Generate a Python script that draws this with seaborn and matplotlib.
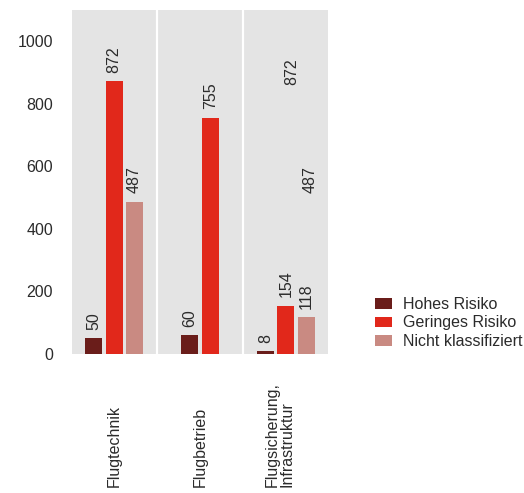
import pandas as pd
import matplotlib
matplotlib.use("Agg")
import matplotlib.pyplot as plt
import matplotlib.transforms as mtransforms
from matplotlib.patches import Patch
import seaborn as sns

# Reported incidents per area, split by risk class
categories = ["Flugtechnik", "Flugbetrieb", "Flugsicherung,\nInfrastruktur"]
series = ["Hohes Risiko", "Geringes Risiko", "Nicht klassifiziert"]
hohes_risiko = [50, 60, 8]
geringes_risiko = [872, 755, 154]
nicht_klassifiziert = [487, None, 118]
yticks = [0, 200, 400, 600, 800, 1000]
# leftover labels printed in the third column
stray_labels = ["872", "487"]
colors = ["#6a1d1a", "#e1281b", "#c98a82"]

rows = []
for i, cat in enumerate(categories):
    for name, vals in zip(series, [hohes_risiko, geringes_risiko, nicht_klassifiziert]):
        if vals[i] is not None:
            rows.append({"Bereich": cat, "Klasse": name, "Anzahl": vals[i]})
df = pd.DataFrame(rows)

sns.set_theme(style="white")
plt.rcParams["font.family"] = ["Liberation Sans", "DejaVu Sans"]
text_color = "#2b2b2b"
fs = 11.5

fig = plt.figure(figsize=(5.24, 4.93), dpi=100)
ax = fig.add_axes([0.1374, 0.282, 0.4885, 0.698])
ax.set_facecolor("#e4e4e4")

palette = dict(zip(series, colors))
slot = 0.238  # width reserved per bar within a group
for cat in categories:
    sub = df[df["Bereich"] == cat]
    present = [s for s in series if s in set(sub["Klasse"])]
    sns.barplot(data=sub, x="Bereich", y="Anzahl", hue="Klasse",
                order=categories, hue_order=present, palette=palette,
                width=slot * len(present), gap=0.17, dodge=True,
                errorbar=None, saturation=1, legend=False, ax=ax,
                linewidth=0)

for container in ax.containers:
    ax.bar_label(container, fmt="%d", rotation=90, padding=6,
                 fontsize=fs, color=text_color)

# stray value labels sitting in the third column
ax.text(2.07, 859, stray_labels[0], rotation=90, ha="center", va="bottom",
        fontsize=fs, color=text_color)
ax.text(2.28, 514, stray_labels[1], rotation=90, ha="center", va="bottom",
        fontsize=fs, color=text_color)

# white separators between the groups
for xs in (0.5, 1.5):
    ax.axvline(xs, color="white", lw=1.6, zorder=0.5)

ax.set_xlim(-0.49, 2.49)
ax.set_ylim(0, 1100)
ax.set_yticks(yticks)
ax.set_yticklabels([str(t) for t in yticks], fontsize=fs, color=text_color)
ax.tick_params(axis="y", length=0, pad=13.5)
ax.set_xticks([])
ax.set_xlabel("")
ax.set_ylabel("")
for sp in ax.spines.values():
    sp.set_visible(False)

# category names, rotated and bottom-aligned below the panel
trans = mtransforms.blended_transform_factory(ax.transData, fig.transFigure)
for i, cat in enumerate(categories):
    ax.text(i - (0.07 if "\n" in cat else 0), 0.012, cat, transform=trans,
            rotation=90, ha="center", va="bottom", multialignment="left",
            fontsize=fs, color=text_color, linespacing=1.0)

handles = [Patch(facecolor=c, edgecolor="none") for c in colors]
fig.legend(handles, series, loc="center left",
           bbox_to_anchor=(375 / 524, 1 - 323 / 493), frameon=False,
           fontsize=fs, handlelength=1.05, handleheight=0.65,
           labelspacing=0.22, handletextpad=0.7, borderpad=0,
           borderaxespad=0, labelcolor=text_color)

fig.savefig("out.png", dpi=100)
